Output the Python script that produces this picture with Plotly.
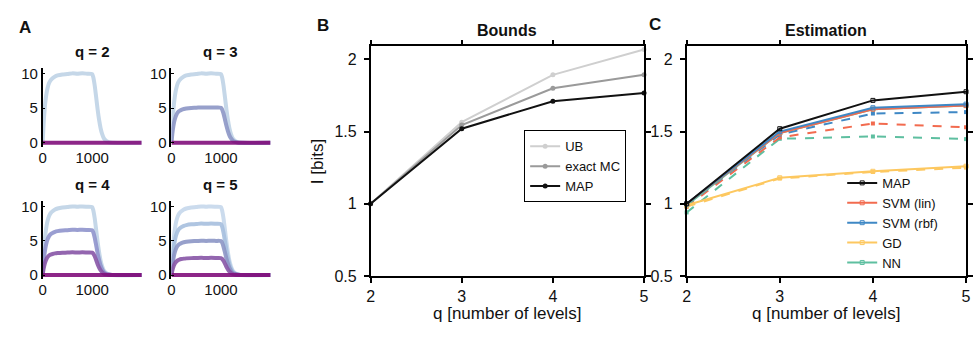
import plotly.graph_objects as go

W, H = 976, 338

# ---------------- data ----------------
# Panel A: time course (ms) and normalized response profile
t_ms = [0, 20, 40, 60, 80, 100, 130, 160, 200, 250, 300, 400, 500, 600, 700, 800, 900, 1000,
        1020, 1050, 1080, 1110, 1140, 1170, 1200, 1240, 1280, 1330, 1400, 2000]
profile = [0, .28, .48, .62, .72, .79, .86, .90, .93, .955, .97, .985, .99, 1.0, .995, 1.0, .995, .99,
           .95, .83, .66, .48, .33, .21, .13, .06, .03, .01, 0, 0]
levels_q2 = [10, 0]
levels_q3 = [10, 5.1, 0]
levels_q4 = [10, 6.6, 3.3, 0]
levels_q5 = [10, 7.5, 5.0, 2.5, 0]
colors_q2 = ["#bfd3e6", "#810f7c"]
colors_q3 = ["#bfd3e6", "#8c96c6", "#810f7c"]
colors_q4 = ["#bfd3e6", "#8f94cc", "#8856a7", "#810f7c"]
colors_q5 = ["#c6d8ec", "#a7bfde", "#8c96c6", "#8856a7", "#810f7c"]

# Panel B: bounds
q_levels = [2, 3, 4, 5]
ub = [1.0, 1.565, 1.893, 2.068]
exact_mc = [1.0, 1.545, 1.80, 1.893]
map_b = [1.0, 1.52, 1.71, 1.767]

# Panel C: estimation (solid and dashed variants)
map_c = [1.0, 1.52, 1.716, 1.776]
svm_lin_solid = [1.0, 1.49, 1.655, 1.68]
svm_lin_dash = [0.98, 1.46, 1.556, 1.53]
svm_rbf_solid = [1.0, 1.50, 1.665, 1.69]
svm_rbf_dash = [0.99, 1.48, 1.625, 1.635]
gd_solid = [0.99, 1.18, 1.225, 1.26]
gd_dash = [0.98, 1.175, 1.22, 1.25]
nn_solid = [0.99, 1.49, 1.655, 1.68]
nn_dash = [0.94, 1.45, 1.466, 1.448]

x_ticks_b = [2, 3, 4, 5]
y_ticks_b = [0.5, 1, 1.5, 2]
y_tick_text = ["0.5", "1", "1.5", "2"]

FONT = "Liberation Sans, Arial, Helvetica, sans-serif"


def px(x):
    return x / W


def py(y):
    return 1 - y / H


fig = go.Figure()

# ---------------- panel A ----------------
a_panels = [
    ("", "", levels_q2, colors_q2),
    ("2", "2", levels_q3, colors_q3),
    ("3", "3", levels_q4, colors_q4),
    ("4", "4", levels_q5, colors_q5),
]
for ax, ay, levs, cols in a_panels:
    for lv, c in zip(levs, cols):
        fig.add_trace(go.Scatter(
            x=t_ms, y=[lv * p for p in profile], mode="lines",
            line=dict(color=c, width=4, shape="spline", smoothing=0.6),
            opacity=0.9, showlegend=False, hoverinfo="skip",
            xaxis="x" + ax, yaxis="y" + ay))

# ---------------- panel B ----------------
for name, vals, col in [("UB", ub, "#cfcfcf"), ("exact MC", exact_mc, "#9a9a9a"), ("MAP", map_b, "#111111")]:
    fig.add_trace(go.Scatter(
        x=q_levels, y=vals, mode="lines+markers", name=name,
        line=dict(color=col, width=2), marker=dict(color=col, size=5),
        cliponaxis=False, xaxis="x5", yaxis="y5", legend="legend"))

# ---------------- panel C ----------------
c_series = [
    ("NN", nn_solid, nn_dash, "#5ebfa0", 5),
    ("GD", gd_solid, gd_dash, "#fdc860", 4),
    ("SVM (lin)", svm_lin_solid, svm_lin_dash, "#f26b4f", 2),
    ("SVM (rbf)", svm_rbf_solid, svm_rbf_dash, "#3f88c5", 3),
]
for name, solid, dash, col, rank in c_series:
    fig.add_trace(go.Scatter(
        x=q_levels, y=dash, mode="lines+markers", showlegend=False,
        line=dict(color=col, width=2, dash="dash"), marker=dict(color=col, size=4, symbol="square"),
        cliponaxis=False, xaxis="x6", yaxis="y6"))
for name, solid, dash, col, rank in c_series:
    fig.add_trace(go.Scatter(
        x=q_levels, y=solid, mode="lines+markers", name=name, legendrank=rank,
        line=dict(color=col, width=2), marker=dict(color=col, size=4, symbol="square-open"),
        cliponaxis=False, xaxis="x6", yaxis="y6", legend="legend2"))
fig.add_trace(go.Scatter(
    x=q_levels, y=map_c, mode="lines+markers", name="MAP", legendrank=1,
    line=dict(color="#111111", width=2), marker=dict(color="#111111", size=4, symbol="square-open"),
    cliponaxis=False, xaxis="x6", yaxis="y6", legend="legend2"))

# ---------------- axes ----------------
tickfont_a = dict(family=FONT, size=15, color="#111")
a_x = [(39, 139), (169, 269)]
a_y = [(67.2, 149.3), (205.2, 286.3)]
layout_axes = {}
idx = 0
for r in range(2):
    for c in range(2):
        idx += 1
        sx = "" if idx == 1 else str(idx)
        layout_axes["xaxis" + sx] = dict(
            domain=[px(a_x[c][0]), px(a_x[c][1])], range=[0, 2000], anchor="y" + sx,
            tickvals=[0, 1000], ticktext=["0", "1000"], showline=False, showgrid=False,
            zeroline=False, ticks="", tickfont=tickfont_a)
        layout_axes["yaxis" + sx] = dict(
            domain=[py(a_y[r][1]), py(a_y[r][0])], range=[-0.6, 10.8], anchor="x" + sx,
            tickvals=[0, 5, 10], showline=True, linecolor="black", linewidth=1.5,
            showgrid=False, zeroline=False, ticks="inside", ticklen=3, tickcolor="black",
            tickfont=tickfont_a)

tickfont_bc = dict(family=FONT, size=16, color="#111")
for sx, (x0, x1) in [("5", (370, 646)), ("6", (689, 971))]:
    layout_axes["xaxis" + sx] = dict(
        domain=[px(x0), px(x1)], range=[2, 5], anchor="y" + sx,
        tickvals=x_ticks_b, showline=True, mirror="ticks", linecolor="black", linewidth=1.5,
        ticks="outside", ticklen=5, tickcolor="black", tickwidth=1.5,
        showgrid=False, zeroline=False, tickfont=tickfont_bc)
    layout_axes["yaxis" + sx] = dict(
        domain=[py(283), py(45)], range=[0.5, 2.09], anchor="x" + sx,
        tickvals=y_ticks_b, ticktext=y_tick_text, showline=True, mirror="ticks",
        linecolor="black", linewidth=1.5, ticks="outside", ticklen=5, tickcolor="black",
        tickwidth=1.5, showgrid=False, zeroline=False, tickfont=tickfont_bc,
        ticklabelstandoff=4)

# ---------------- annotations ----------------
ann = []


def text(x, y, s, size, bold=False, angle=0):
    ann.append(dict(x=px(x), y=py(y), xref="paper", yref="paper", showarrow=False,
                    text=("<b>%s</b>" % s) if bold else s, textangle=angle,
                    font=dict(family=FONT, size=size, color="#111"),
                    xanchor="center", yanchor="middle"))


text(21, 25, "A", 17, True)
text(322, 23, "B", 17, True)
text(657, 22, "C", 17, True)
text(89, 50, "q = 2", 15, True)
text(219, 50, "q = 3", 15, True)
text(89, 188, "q = 4", 15, True)
text(219, 188, "q = 5", 15, True)
text(508, 28, "Bounds", 16, True)
text(830, 28, "Estimation", 16, True)
text(508, 322, "q [number of levels]", 17)
text(830, 322, "q [number of levels]", 17)
text(316, 165, "I [bits]", 17, angle=-90)

fig.update_layout(
    width=W, height=H, margin=dict(l=0, r=0, t=0, b=0),
    paper_bgcolor="white", plot_bgcolor="white",
    font=dict(family=FONT, color="#111"),
    annotations=ann,
    legend=dict(x=px(525), y=py(132), xanchor="left", yanchor="top",
                bordercolor="black", borderwidth=1, bgcolor="white",
                font=dict(family=FONT, size=13, color="#111"), itemwidth=30,
                tracegroupgap=0),
    legend2=dict(x=px(846), y=py(171), xanchor="left", yanchor="top",
                 borderwidth=0, bgcolor="rgba(0,0,0,0)",
                 font=dict(family=FONT, size=13, color="#111"), itemwidth=30,
                 tracegroupgap=0),
    **layout_axes,
)

fig.write_html("out.html")
